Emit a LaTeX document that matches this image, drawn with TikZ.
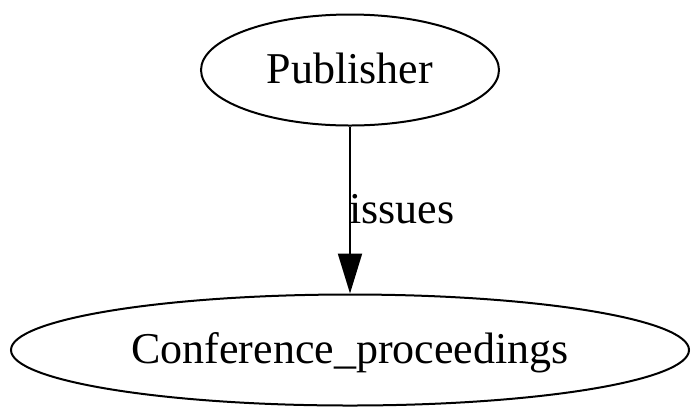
\documentclass[tikz,border=0pt]{standalone}
\usepackage{fontspec}
\setmainfont{Liberation Serif}
\usetikzlibrary{arrows.meta,shapes.geometric}
\begin{document}
\begin{tikzpicture}[x=0.5pt,y=-0.5pt,
  txt/.style={font=\fontsize{22}{26}\selectfont, text height=16pt, text depth=3pt, inner sep=0pt},
  ell/.style={txt, draw, ellipse, line width=1pt},
  edge/.style={line width=1pt, -{Triangle[length=20pt,width=12pt]}}]
\useasboundingbox (0,0) rectangle (700,419);
\node[ell, minimum width=149pt, minimum height=55.5pt] (pub) at (350,70) {Publisher};
\node[ell, minimum width=339pt, minimum height=55.5pt] (conf) at (350,350) {Conference\_proceedings};
\draw[edge] (pub) -- (conf);
\node[txt] (lbl) at (402,210) {issues};
\end{tikzpicture}
\end{document}
